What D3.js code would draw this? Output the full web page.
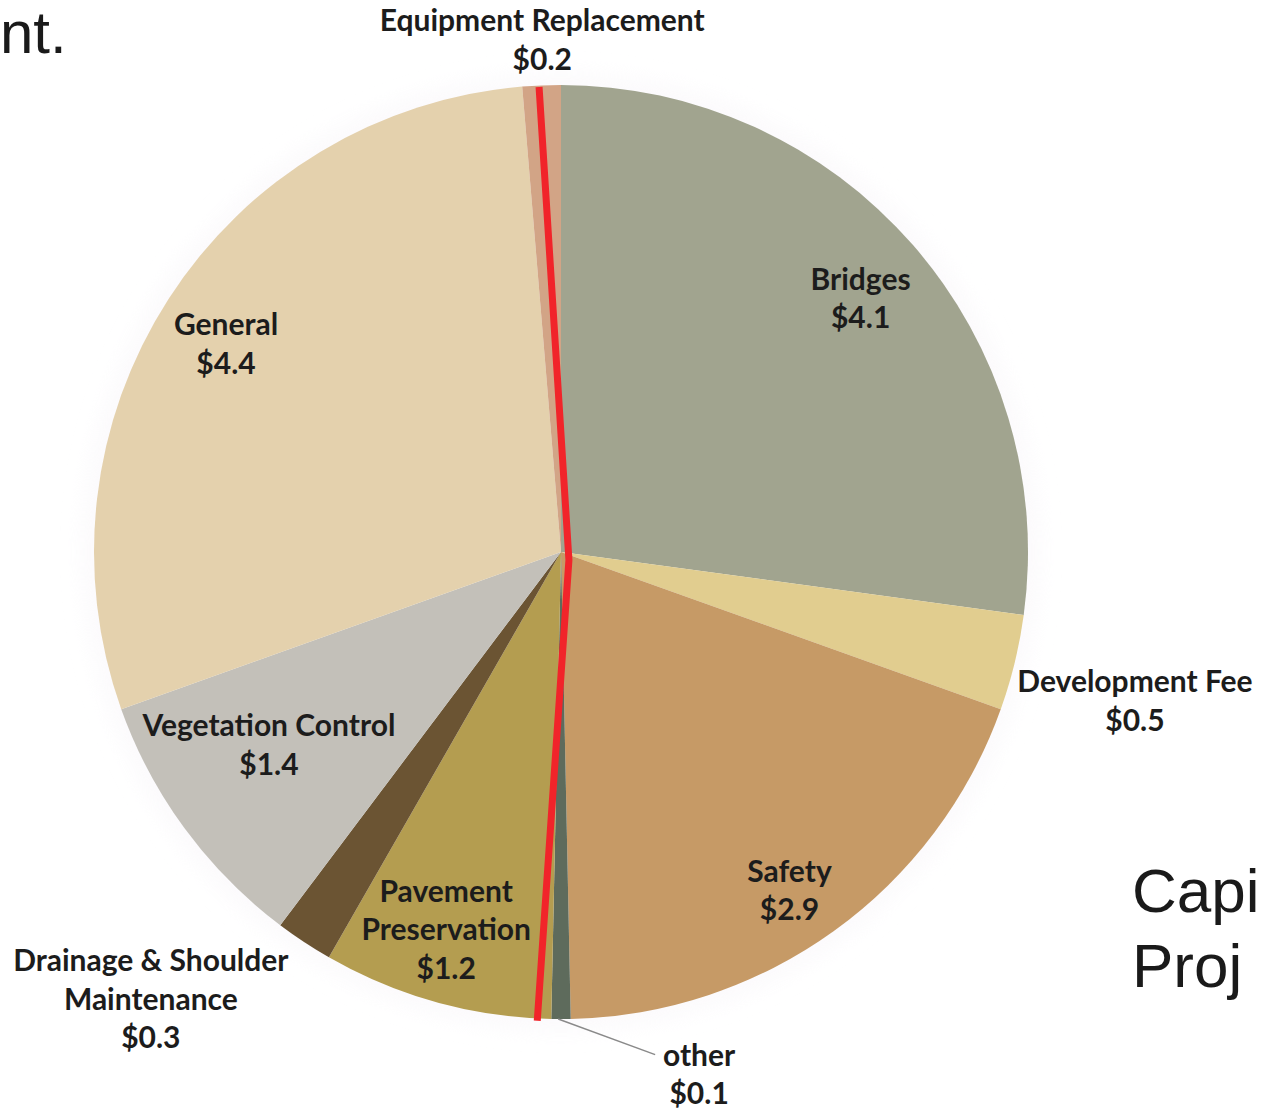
<!DOCTYPE html>
<html>
<head>
<meta charset="utf-8">
<script src="https://cdn.jsdelivr.net/npm/d3@7"></script>
<style>
  html, body { margin: 0; padding: 0; background: #ffffff; }
  svg { display: block; }
</style>
</head>
<body>
<svg id="chart" width="1262" height="1112"></svg>
<script>
// ---- data ----
const categories = ["Bridges", "Development Fee", "Safety", "other", "Pavement Preservation",
  "Drainage & Shoulder Maintenance", "Vegetation Control", "General", "Equipment Replacement"];
const values = [4.1, 0.5, 2.9, 0.1, 1.2, 0.3, 1.4, 4.4, 0.2];
const valueLabels = ["$4.1", "$0.5", "$2.9", "$0.1", "$1.2", "$0.3", "$1.4", "$4.4", "$0.2"];
const nameLines = [["Bridges"], ["Development Fee"], ["Safety"], ["other"], ["Pavement", "Preservation"],
  ["Drainage & Shoulder", "Maintenance"], ["Vegetation Control"], ["General"], ["Equipment Replacement"]];
const colors = ["#a1a48f", "#e1cd8f", "#c69a66", "#5e6b5c", "#b49d50", "#6b5433", "#c3c0b9", "#e4d1ad", "#d2a486"];

// ---- layout ----
const W = 1262, H = 1112;
const cx = 561, cy = 552, R = 467;
const svg = d3.select("#chart");

// label placement: polar (degrees clockwise from 12 o'clock, radius as fraction of R)
const labelPolar = {
  "Bridges": [49.8, 0.84],
  "Development Fee": [104.6, 1.27],
  "Safety": [146, 0.875],
  "other": [165.2, 1.158],
  "Pavement Preservation": [196.9, 0.846],
  "Drainage & Shoulder Maintenance": [222.5, 1.30],
  "Vegetation Control": [236.5, 0.75],
  "General": [301.8, 0.844],
  "Equipment Replacement": [357.9, 1.097]
};

const data = categories.map((c, i) => ({ name: c, value: values[i], vl: valueLabels[i], lines: nameLines[i], color: colors[i] }));

const defs = svg.append("defs");
const blur = defs.append("filter").attr("id", "halo").attr("x", "-20%").attr("y", "-20%").attr("width", "140%").attr("height", "140%");
blur.append("feGaussianBlur").attr("stdDeviation", 10);
const hatch = defs.append("pattern").attr("id", "hatch").attr("patternUnits", "userSpaceOnUse")
  .attr("width", 6).attr("height", 6).attr("patternTransform", "rotate(45)");
hatch.append("rect").attr("width", 6).attr("height", 6).attr("fill", "#ffffff");
hatch.append("line").attr("x1", 0).attr("y1", 0).attr("x2", 0).attr("y2", 6).attr("stroke", "#d9cadf").attr("stroke-width", 2);

// background slide fragments
const bg = svg.append("g").attr("font-family", "Liberation Sans, Arial, sans-serif").attr("fill", "#1a1a1a");
bg.append("text").attr("x", 0).attr("y", 53).attr("font-size", 60).text("nt.");
bg.append("text").attr("x", 1132).attr("y", 912).attr("font-size", 62).text("Capi");
bg.append("text").attr("x", 1132).attr("y", 987).attr("font-size", 62).text("Proj");

const g = svg.append("g").attr("transform", `translate(${cx},${cy})`);

// halo behind pie
g.append("circle").attr("r", R + 12).attr("fill", "url(#hatch)").attr("opacity", 0.6).attr("filter", "url(#halo)");

const pie = d3.pie().sort(null).value(d => d.value).startAngle(0).endAngle(2 * Math.PI);
const arcs = pie(data);
const arc = d3.arc().innerRadius(0).outerRadius(R);

g.selectAll("path.slice").data(arcs).join("path")
  .attr("class", "slice")
  .attr("d", arc)
  .attr("fill", d => d.data.color);

// hand-drawn red annotation line (polar points: degrees, radius fraction)
const redPolar = [[-2.7, 0.997], [135, 0.024], [182.9, 1.005]];
const redLine = d3.line().curve(d3.curveLinear);
g.append("path")
  .attr("d", redLine(redPolar.map(([a, r]) => d3.pointRadial(a * Math.PI / 180, r * R))))
  .attr("fill", "none").attr("stroke", "#f1242a").attr("stroke-width", 7).attr("stroke-linejoin", "round");

// labels
const fontSize = 30, lineH = 38.5;
const labels = g.append("g").attr("font-family", "Lato, sans-serif").attr("font-weight", 700)
  .attr("font-size", fontSize).attr("fill", "#1c1c1c").attr("text-anchor", "middle");

arcs.forEach(a => {
  const [deg, rf] = labelPolar[a.data.name];
  const [lx, ly] = d3.pointRadial(deg * Math.PI / 180, rf * R);
  const lines = a.data.lines.concat([a.data.vl]);
  const n = lines.length;
  const t = labels.append("text");
  lines.forEach((ln, i) => {
    t.append("tspan").attr("x", lx).attr("y", ly - (n - 1) * lineH / 2 + i * lineH + fontSize * 0.34).text(ln);
  });
  if (a.data.name === "other") {
    const mid = (a.startAngle + a.endAngle) / 2 + 0.006;
    const p0 = d3.pointRadial(mid, R);
    g.append("path")
      .attr("d", d3.line()([p0, [lx - 44, ly - lineH / 2 - 1]]))
      .attr("stroke", "#8a8a8a").attr("stroke-width", 1.5).attr("fill", "none");
  }
});
</script>
</body>
</html>
